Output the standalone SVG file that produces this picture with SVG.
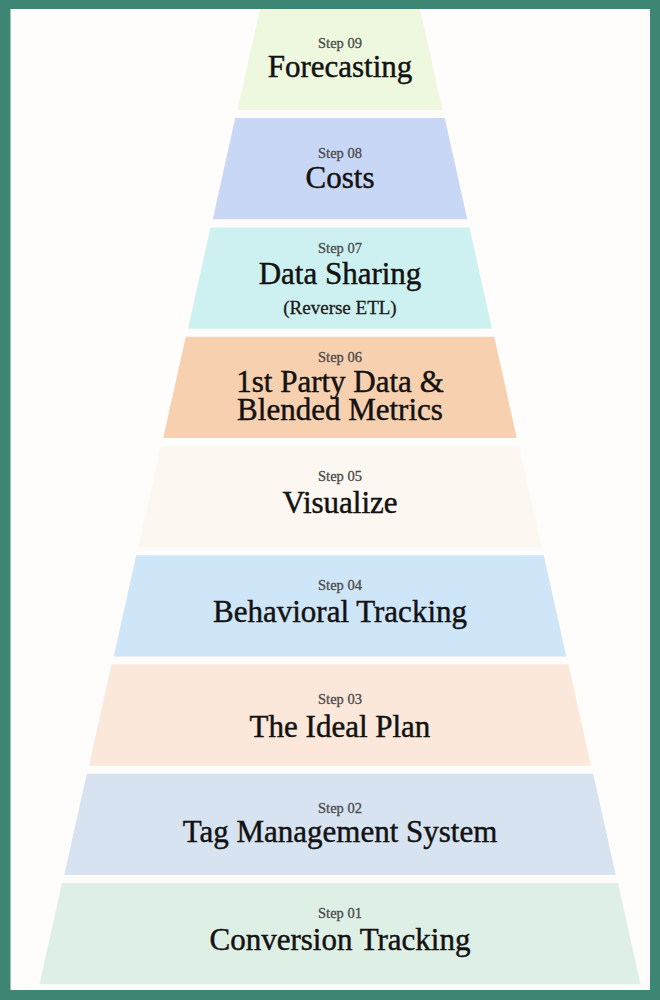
<svg xmlns="http://www.w3.org/2000/svg" width="660" height="1000" viewBox="0 0 660 1000">
  <style>
    .step { font-family: "Liberation Serif", "Times New Roman", serif; font-size: 14.5px; fill: #4a4a4a; stroke: #4a4a4a; stroke-width: 0.3px; text-anchor: middle; }
    .title { font-family: "Liberation Serif", "Times New Roman", serif; font-size: 31px; fill: #121212; stroke: #121212; stroke-width: 0.45px; text-anchor: middle; }
    .sub { font-family: "Liberation Serif", "Times New Roman", serif; font-size: 19px; fill: #1a1a1a; stroke: #1a1a1a; stroke-width: 0.3px; text-anchor: middle; }
  </style>
  <rect x="0" y="0" width="660" height="1000" fill="#3e8674"/>
  <rect x="10.5" y="9" width="639.5" height="981" fill="#fefdfb"/>

  <g id="step09">
    <polygon points="260,9 420,9 442.5,110 237.5,110" fill="#eef8df"/>
    <text class="step" x="340" y="48">Step 09</text>
    <text class="title" x="340" y="77">Forecasting</text>
  </g>
  <g id="step08">
    <polygon points="235.25,118 444.75,118 467.25,219.25 212.75,219.25" fill="#c8d7f6"/>
    <text class="step" x="340" y="158">Step 08</text>
    <text class="title" x="340" y="188">Costs</text>
  </g>
  <g id="step07">
    <polygon points="210.5,227.5 469.5,227.5 492,328.75 188,328.75" fill="#cdf1f0"/>
    <text class="step" x="340" y="253">Step 07</text>
    <text class="title" x="340" y="284">Data Sharing</text>
    <text class="sub" x="340" y="314">(Reverse ETL)</text>
  </g>
  <g id="step06">
    <polygon points="185.75,336.75 494.25,336.75 516.75,438 163.25,438" fill="#f7d0b0"/>
    <text class="step" x="340" y="361.5">Step 06</text>
    <text class="title" x="340" y="391.5"><tspan x="340" y="391.5">1st Party Data &amp;</tspan><tspan x="340" y="420">Blended Metrics</tspan></text>
  </g>
  <g id="step05">
    <polygon points="161,446 519,446 541.5,547.25 138.5,547.25" fill="#fcf7f0"/>
    <text class="step" x="340" y="481">Step 05</text>
    <text class="title" x="340" y="512.5">Visualize</text>
  </g>
  <g id="step04">
    <polygon points="136.25,555.25 543.75,555.25 566.25,656.5 113.75,656.5" fill="#cfe5f8"/>
    <text class="step" x="340" y="590">Step 04</text>
    <text class="title" x="340" y="621.5">Behavioral Tracking</text>
  </g>
  <g id="step03">
    <polygon points="111.5,664.5 568.5,664.5 591,765.75 89,765.75" fill="#fbe8da"/>
    <text class="step" x="340" y="704">Step 03</text>
    <text class="title" x="340" y="736.5">The Ideal Plan</text>
  </g>
  <g id="step02">
    <polygon points="86.75,773.75 593.25,773.75 615.75,875 64.25,875" fill="#d7e3f0"/>
    <text class="step" x="340" y="813">Step 02</text>
    <text class="title" x="340" y="842">Tag Management System</text>
  </g>
  <g id="step01">
    <polygon points="62,883 618,883 640.5,984.25 39.5,984.25" fill="#deefe6"/>
    <text class="step" x="340" y="918">Step 01</text>
    <text class="title" x="340" y="950">Conversion Tracking</text>
  </g>
</svg>
